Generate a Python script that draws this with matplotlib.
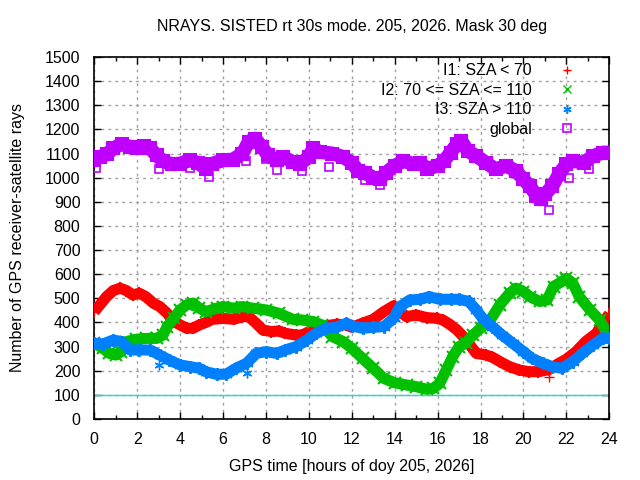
import matplotlib
matplotlib.use("Agg")
import matplotlib.pyplot as plt
from matplotlib.ticker import MultipleLocator

plt.rcParams['font.family'] = ['Liberation Sans', 'DejaVu Sans']

title = "NRAYS. SISTED rt 30s mode. 205, 2026. Mask 30 deg"
xlabel = "GPS time [hours of doy 205, 2026]"
ylabel = "Number of GPS receiver-satellite rays"

labels = ["I1: SZA < 70", "I2: 70 <= SZA <= 110", "I3: SZA > 110", "global"]
colors = ["#ff0000", "#00c000", "#0080ff", "#c000ff"]

red_h = [0, 0.26, 0.57, 0.88, 1.2, 1.5, 1.8, 2.1, 2.4, 2.75, 3.05, 3.4, 3.7, 4.0, 4.3, 4.6, 4.9, 5.2,
         5.5, 6.0, 6.5, 6.9, 7.2, 7.55, 7.85, 8.25, 8.6, 8.9, 9.4, 9.7, 10.0, 10.35, 10.8, 11.3, 11.75,
         12.0, 12.5, 13.0, 13.5, 13.95, 14.25, 14.55, 15.0, 15.5, 15.95, 16.25, 16.6, 16.9, 17.2, 17.5,
         17.8, 18.25, 18.55, 18.9, 19.35, 19.8, 20.25, 20.7, 21.2, 21.6, 22.0, 22.45, 22.9, 23.4, 23.7, 24.0]
red_v = [445, 473, 507, 532, 542, 532, 514, 521, 507, 480, 466, 438, 404, 390, 376, 376, 390, 400,
         413, 417, 413, 424, 424, 396, 369, 362, 365, 355, 348, 348, 362, 372, 386, 393, 390,
         380, 397, 413, 445, 469, 445, 424, 431, 420, 417, 410, 390, 369, 341, 307,
         272, 265, 256, 238, 217, 203, 196, 196, 205, 228, 248, 279, 321, 355, 400, 435]

green_h = [0, 0.4, 0.7, 1.0, 1.25, 1.5, 1.95, 2.4, 2.9, 3.2, 3.4, 3.7, 4.0, 4.3, 4.6, 4.9, 5.2, 5.7,
           6.0, 6.5, 6.9, 7.4, 8.0, 8.6, 9.25, 9.7, 10.2, 10.6, 11.1, 11.6, 12.0, 12.5, 13.0, 13.5,
           14.0, 14.55, 15.0, 15.5, 15.8, 16.1, 16.4, 16.7, 17.0, 17.3, 17.65, 18.0, 18.45, 18.9,
           19.35, 19.65, 20.0, 20.3, 20.75, 21.1, 21.4, 21.8, 22.0, 22.3, 22.6, 23.1, 23.55, 24.0]
green_v = [315, 293, 272, 265, 279, 321, 330, 334, 334, 348, 383, 417, 452, 473, 480, 459, 445, 459,
           466, 459, 466, 459, 452, 438, 413, 410, 404, 390, 341, 321, 293, 251, 210, 168,
           150, 141, 134, 123, 127, 148, 203, 258, 300, 314, 348, 376, 410, 473,
           521, 542, 528, 507, 487, 493, 549, 570, 583, 563, 507, 452, 410, 341]

blue_h = [0, 0.4, 0.88, 1.27, 1.66, 2.1, 2.6, 3.05, 3.5, 4.0, 4.45, 4.9, 5.2, 5.7, 6.15, 6.6, 7.1,
          7.55, 8.0, 8.5, 8.9, 9.4, 9.9, 10.35, 10.8, 11.3, 11.75, 12.0, 12.5, 13.0, 13.5, 13.95,
          14.25, 14.7, 15.2, 15.6, 16.1, 16.6, 17.0, 17.45, 17.8, 18.1, 18.55, 19.0, 19.5, 20.0,
          20.4, 20.9, 21.35, 21.8, 22.3, 22.75, 23.25, 23.7, 24.0]
blue_v = [314, 311, 327, 321, 286, 286, 286, 265, 244, 224, 217, 210, 196, 185, 186, 210, 231,
          272, 279, 272, 286, 300, 327, 355, 376, 380, 397, 386, 376, 380, 383, 417,
          466, 493, 496, 507, 496, 496, 496, 487, 452, 417, 383, 348, 314, 279,
          251, 231, 217, 210, 238, 272, 307, 334, 334]

glob_h = [0, 0.26, 0.57, 0.88, 1.27, 1.66, 2.0, 2.3, 2.6, 2.9, 3.2, 3.6, 4.0, 4.45, 4.84, 5.2, 5.5,
          6.0, 6.46, 6.9, 7.2, 7.5, 7.8, 8.1, 8.5, 8.8, 9.25, 9.6, 10.0, 10.2, 10.5, 11.1, 11.6,
          12.0, 12.3, 12.6, 13.0, 13.3, 13.6, 14.0, 14.4, 14.9, 15.2, 15.5, 16.0, 16.3, 16.6,
          16.9, 17.1, 17.4, 17.8, 18.25, 18.7, 19.2, 19.65, 20.0, 20.3, 20.6, 20.8, 21.0, 21.35,
          21.65, 22.0, 22.3, 22.8, 23.25, 23.7, 24.0]
glob_v = [1075, 1086, 1096, 1121, 1139, 1128, 1125, 1131, 1121, 1093, 1069, 1056, 1058, 1072, 1061, 1037, 1058,
          1072, 1075, 1100, 1149, 1162, 1128, 1093, 1072, 1086, 1065, 1058, 1086, 1121, 1107, 1100, 1086,
          1062, 1028, 1021, 1000, 993, 1021, 1049, 1069, 1056, 1062, 1037, 1049, 1069, 1104,
          1139, 1153, 1111, 1090, 1062, 1035, 1049, 1028, 993, 965, 926, 910, 931, 965,
          1014, 1056, 1069, 1062, 1090, 1104, 1104]

# isolated points off the bands
red_out_h = [21.2]
red_out_v = [175]
blue_out_h = [3.03, 7.1]
blue_out_v = [222, 192]
glob_out_h = [0.1, 3.0, 4.45, 5.36, 7.07, 7.99, 8.5, 9.7, 10.95, 12.6, 13.3, 21.2, 22.1, 23.07]
glob_out_v = [1041, 1034, 1038, 1004, 1069, 1079, 1031, 1027, 1046, 990, 969, 865, 1000, 1034]

ref_level = 100

xticks = list(range(0, 25, 2))
yticks = list(range(0, 1501, 100))

FS = 11.5

fig = plt.figure(figsize=(6.4, 4.8), dpi=100)
ax = fig.add_axes([94.3 / 640, 61 / 480, 515 / 640, 362 / 480])

ax.axhline(ref_level, color="#10e0e0", lw=1.0, zorder=2)

series = [(red_h, red_v, "+", colors[0], labels[0]),
          (green_h, green_v, "x", colors[1], labels[1]),
          (blue_h, blue_v, (6, 2, 0), colors[2], labels[2]),
          (glob_h, glob_v, "s", colors[3], labels[3])]
widths = [8, 8, 8, 10]
handles = []
for (hh, vv, mk, c, lab), w in zip(series, widths):
    ax.plot(hh, vv, color=c, lw=w, solid_capstyle="butt", solid_joinstyle="round", zorder=3)
    ax.plot(hh, vv, ls="none", marker=mk, ms=9, mec=c, mfc=c, mew=1.5, zorder=3)
    if mk == "s":
        h, = ax.plot([], [], ls="none", marker=mk, ms=5.5, mec=c, mfc="none", mew=1.2, label=lab)
    else:
        h, = ax.plot([], [], ls="none", marker=mk, ms=6, mec=c, mfc=c, mew=1.0, label=lab)
    handles.append(h)

ax.plot(red_out_h, red_out_v, ls="none", marker="+", ms=7, mec=colors[0], mew=1.0, zorder=4)
ax.plot(blue_out_h, blue_out_v, ls="none", marker=(6, 2, 0), ms=7, mec=colors[2], mew=1.0, zorder=4)
ax.plot(glob_out_h, glob_out_v, ls="none", marker="s", ms=5.5, mec=colors[3], mfc="none", mew=1.2, zorder=4)

ax.set_xlim(0, 24)
ax.set_ylim(0, 1500)
ax.set_xticks(xticks)
ax.set_yticks(yticks)
ax.xaxis.set_minor_locator(MultipleLocator(1))
ax.tick_params(which="both", direction="in", top=True, right=True, labelsize=FS, colors="black")
ax.tick_params(which="major", length=5, width=1)
ax.tick_params(which="minor", length=3, width=1)
ax.tick_params(axis="x", pad=9)
ax.tick_params(axis="y", pad=10)
ax.grid(True, which="major", color="#a0a0a0", lw=1.0, ls=(0, (2, 3)))
ax.set_axisbelow(True)
for s in ax.spines.values():
    s.set_linewidth(1.2)

leg = ax.legend(handles=handles, loc="upper right", bbox_to_anchor=(0.958, 1.0), borderaxespad=0,
                frameon=False, markerfirst=False, handlelength=1.8, handletextpad=1.3,
                labelspacing=0.28, fontsize=FS)
for t in leg.get_texts():
    t.set_ha("right")
leg._legend_box.align = "right"

fig.text(0.5 * (94.3 + 609.3) / 640, 1 - 27 / 480, title, ha="center", va="center", fontsize=FS)
ax.set_xlabel(xlabel, fontsize=FS, labelpad=9)
ax.set_ylabel(ylabel, fontsize=FS, labelpad=14)

fig.savefig("out.png", dpi=100)
